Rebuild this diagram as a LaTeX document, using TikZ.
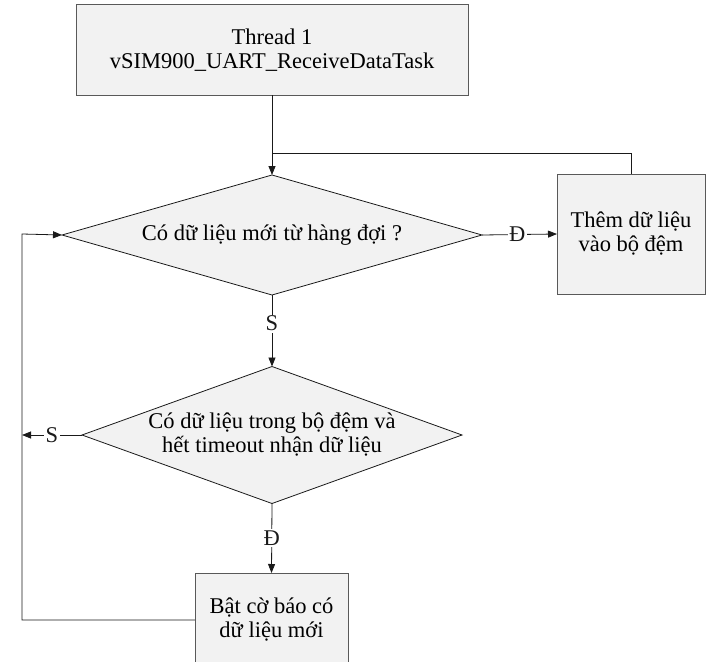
\documentclass[tikz,border=0pt]{standalone}
\usepackage{fontspec}
\setmainfont{Liberation Serif}
\usetikzlibrary{shapes.geometric, arrows.meta, positioning, calc}
\definecolor{boxfill}{HTML}{F2F2F2}
\definecolor{boxedge}{HTML}{595959}
\definecolor{flowline}{HTML}{1A1A1A}
\tikzset{
  taskbox/.style={rectangle, draw=boxedge, fill=boxfill, line width=1pt,
                  inner sep=0pt, outer sep=0pt, align=center},
  decision/.style={diamond, draw=flowline, fill=boxfill, line width=0.8pt,
                   inner sep=0pt, outer sep=0pt, align=center},
  flowarrow/.style={-{Triangle[length=9pt, width=7pt]}, line width=0.8pt, flowline},
  plainline/.style={line width=0.8pt, flowline},
  branchlabel/.style={fill=white, inner sep=1.5pt},
}

\begin{document}
\begin{tikzpicture}[x=1pt, y=-1pt, font=\fontsize{22.5}{24}\selectfont]
  \clip (0,0) rectangle (706,661);

  \node[taskbox, minimum width=392pt, minimum height=90pt] (thread) at (272, 50) {Thread 1\\vSIM900\_UART\_ReceiveDataTask};
  \node[decision, shape aspect=3.5, minimum width=420pt, minimum height=120pt] (q1) at (272, 235) {Có dữ liệu mới từ hàng đợi ?};
  \node[taskbox, minimum width=148pt, minimum height=120pt] (addbuf) at (631, 234) {Thêm dữ liệu\\vào bộ đệm};
  \node[decision, shape aspect=2.77, minimum width=380pt, minimum height=137pt] (q2) at (272, 435) {Có dữ liệu trong bộ đệm và\\hết timeout nhận dữ liệu};
  \node[taskbox, minimum width=153pt, minimum height=94pt] (setflag) at (271.5, 620) {Bật cờ báo có\\dữ liệu mới};

  \coordinate (join) at (272, 153);
  \coordinate (back) at (22, 234);

  \draw[flowarrow] (thread.south -| q1.north) -- (q1.north);
  \draw[flowarrow] (q1.east) -- node[branchlabel, pos=0.47] {Đ} (addbuf.west);
  \draw[plainline] (addbuf.north) |- (join);
  \draw[flowarrow] (q1.south) -- node[branchlabel, pos=0.4] {S} (q2.north);
  \draw[flowarrow] (q2.south) -- node[branchlabel] {Đ} (setflag.north);
  \draw[flowarrow] (q2.west) -- node[branchlabel] {S} (q2.west -| back);
  \draw[flowarrow] (setflag.west) -| (back) -- (q1.west);
\end{tikzpicture}
\end{document}
